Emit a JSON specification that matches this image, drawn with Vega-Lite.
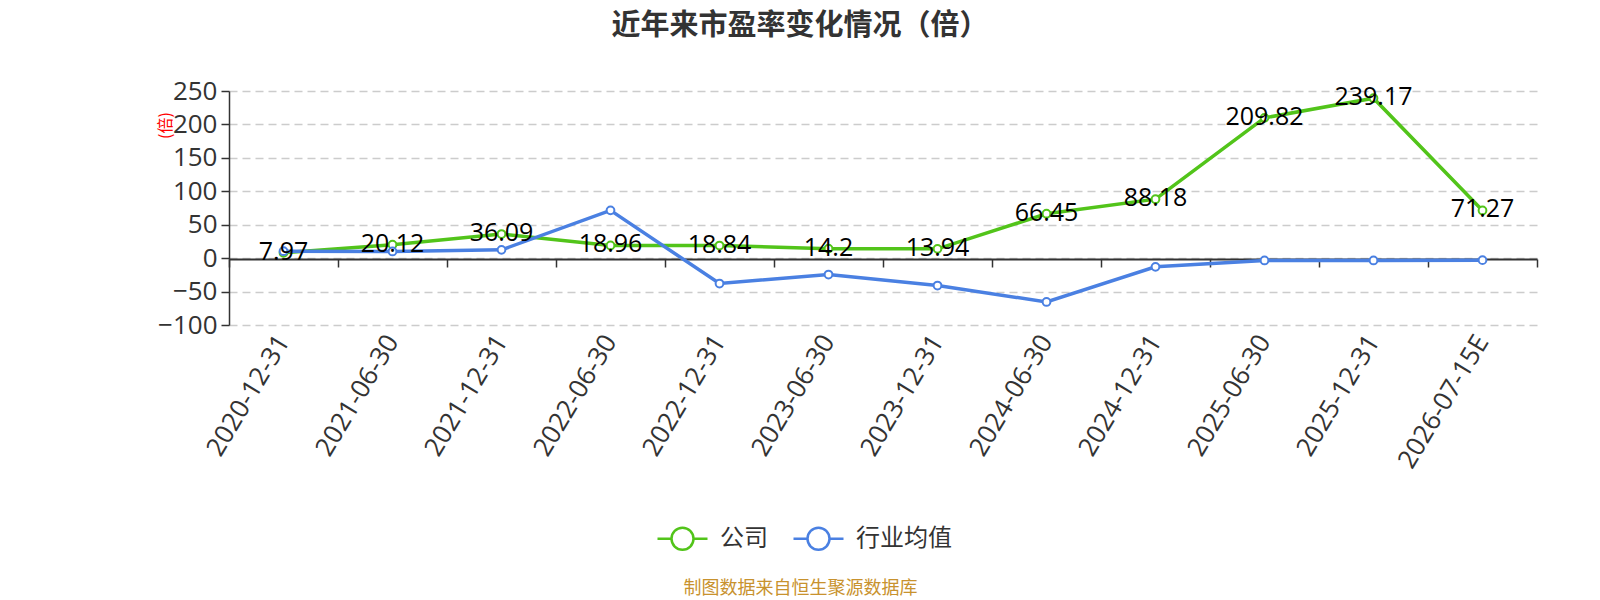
{
  "$schema": "https://vega.github.io/schema/vega-lite/v6.json",
  "autosize": "none",
  "width": 1308,
  "height": 234,
  "padding": {"left": 229, "top": 91, "right": 63, "bottom": 275},
  "title": {
    "text": "近年来市盈率变化情况（倍）",
    "font": "Noto Sans CJK SC",
    "fontSize": 29,
    "fontWeight": "bold",
    "color": "#333333",
    "anchor": "middle",
    "frame": "group",
    "dx": -83,
    "offset": 37
  },
  "data": {
    "values": [
      {"date": "2020-12-31", "series": "公司", "value": 7.97},
      {"date": "2021-06-30", "series": "公司", "value": 20.12},
      {"date": "2021-12-31", "series": "公司", "value": 36.09},
      {"date": "2022-06-30", "series": "公司", "value": 18.96},
      {"date": "2022-12-31", "series": "公司", "value": 18.84},
      {"date": "2023-06-30", "series": "公司", "value": 14.2},
      {"date": "2023-12-31", "series": "公司", "value": 13.94},
      {"date": "2024-06-30", "series": "公司", "value": 66.45},
      {"date": "2024-12-31", "series": "公司", "value": 88.18},
      {"date": "2025-06-30", "series": "公司", "value": 209.82},
      {"date": "2025-12-31", "series": "公司", "value": 239.17},
      {"date": "2026-07-15E", "series": "公司", "value": 71.27},
      {"date": "2020-12-31", "series": "行业均值", "value": 10.4},
      {"date": "2021-06-30", "series": "行业均值", "value": 10},
      {"date": "2021-12-31", "series": "行业均值", "value": 12.4},
      {"date": "2022-06-30", "series": "行业均值", "value": 71.5},
      {"date": "2022-12-31", "series": "行业均值", "value": -38},
      {"date": "2023-06-30", "series": "行业均值", "value": -24.5},
      {"date": "2023-12-31", "series": "行业均值", "value": -41},
      {"date": "2024-06-30", "series": "行业均值", "value": -65.5},
      {"date": "2024-12-31", "series": "行业均值", "value": -13},
      {"date": "2025-06-30", "series": "行业均值", "value": -3.5},
      {"date": "2025-12-31", "series": "行业均值", "value": -3.5},
      {"date": "2026-07-15E", "series": "行业均值", "value": -3}
    ]
  },
  "encoding": {
    "y": {
      "field": "value",
      "type": "quantitative",
      "scale": {"domain": [-100, 250], "nice": false, "zero": false},
      "axis": {
        "values": [-100, -50, 0, 50, 100, 150, 200, 250],
        "title": "(倍)",
        "titleColor": "#ff0000",
        "titleFont": "Noto Sans CJK SC",
        "titleFontSize": 16,
        "titleFontWeight": "normal",
        "titleAngle": -90,
        "titleX": -64,
        "titleY": 34,
        "titleAlign": "center",
        "titleBaseline": "middle",
        "labelFontSize": 26,
        "labelColor": "#333333",
        "labelPadding": 4,
        "domainColor": "#333333",
        "domainWidth": 1.5,
        "tickColor": "#333333",
        "tickSize": 8,
        "tickWidth": 1.5,
        "grid": true,
        "gridColor": "#cccccc",
        "gridDash": [8, 5],
        "gridWidth": 1.5
      }
    },
    "color": {
      "field": "series",
      "type": "nominal",
      "scale": {"domain": ["公司", "行业均值"], "range": ["#52c41a", "#4a80e2"]},
      "legend": {
        "title": null,
        "orient": "none",
        "direction": "horizontal",
        "legendX": 427,
        "legendY": 421,
        "symbolType": "M-1,0L-0.44,0M0.44,0L1,0M0.44,0A0.44,0.44,0,1,1,-0.44,0A0.44,0.44,0,1,1,0.44,0",
        "symbolSize": 2500,
        "symbolStrokeWidth": 2.5,
        "symbolFillColor": "#ffffff",
        "labelFont": "Noto Sans CJK SC",
        "labelFontSize": 24,
        "labelColor": "#333333",
        "labelOffset": 11,
        "columnPadding": 20
      }
    }
  },
  "layer": [
    {
      "mark": {"type": "line", "strokeWidth": 3.5},
      "encoding": {
        "x": {
          "field": "date",
          "type": "nominal",
          "sort": null,
          "scale": {"type": "band", "paddingInner": 0, "paddingOuter": 0},
          "axis": {
            "domain": false,
            "ticks": false,
            "grid": false,
            "labelAngle": -59,
            "labelAlign": "right",
            "labelBaseline": "middle",
            "labelFontSize": 26,
            "labelColor": "#333333",
            "labelPadding": 12,
            "title": "制图数据来自恒生聚源数据库",
            "titleFont": "Noto Sans CJK SC",
            "titleFontSize": 18,
            "titleFontWeight": "normal",
            "titleColor": "#c8922e",
            "titleX": 571,
            "titleY": 263,
            "titleAlign": "center",
            "titleBaseline": "middle"
          }
        }
      }
    },
    {
      "mark": {"type": "point", "filled": false, "fill": "#ffffff", "opacity": 1, "size": 60, "strokeWidth": 2},
      "encoding": {
        "x": {
          "field": "date",
          "type": "nominal",
          "sort": null,
          "axis": {
            "orient": "bottom",
            "offset": -66,
            "labels": false,
            "title": null,
            "grid": false,
            "domain": true,
            "domainColor": "#333333",
            "domainWidth": 2,
            "ticks": true,
            "tickBand": "extent",
            "tickColor": "#333333",
            "tickSize": 8,
            "tickWidth": 1.5
          }
        }
      }
    },
    {
      "transform": [{"filter": "datum.series == '公司'"}],
      "mark": {"type": "text", "align": "center", "baseline": "middle", "dy": -1, "fontSize": 25, "color": "#000000"},
      "encoding": {
        "x": {"field": "date", "type": "nominal", "sort": null, "axis": null},
        "text": {"field": "value", "type": "nominal"},
        "color": {"value": "#000000"}
      }
    }
  ],
  "resolve": {"axis": {"x": "independent"}},
  "config": {
    "font": "Open Sans, Noto Sans CJK SC",
    "view": {"stroke": null}
  }
}
